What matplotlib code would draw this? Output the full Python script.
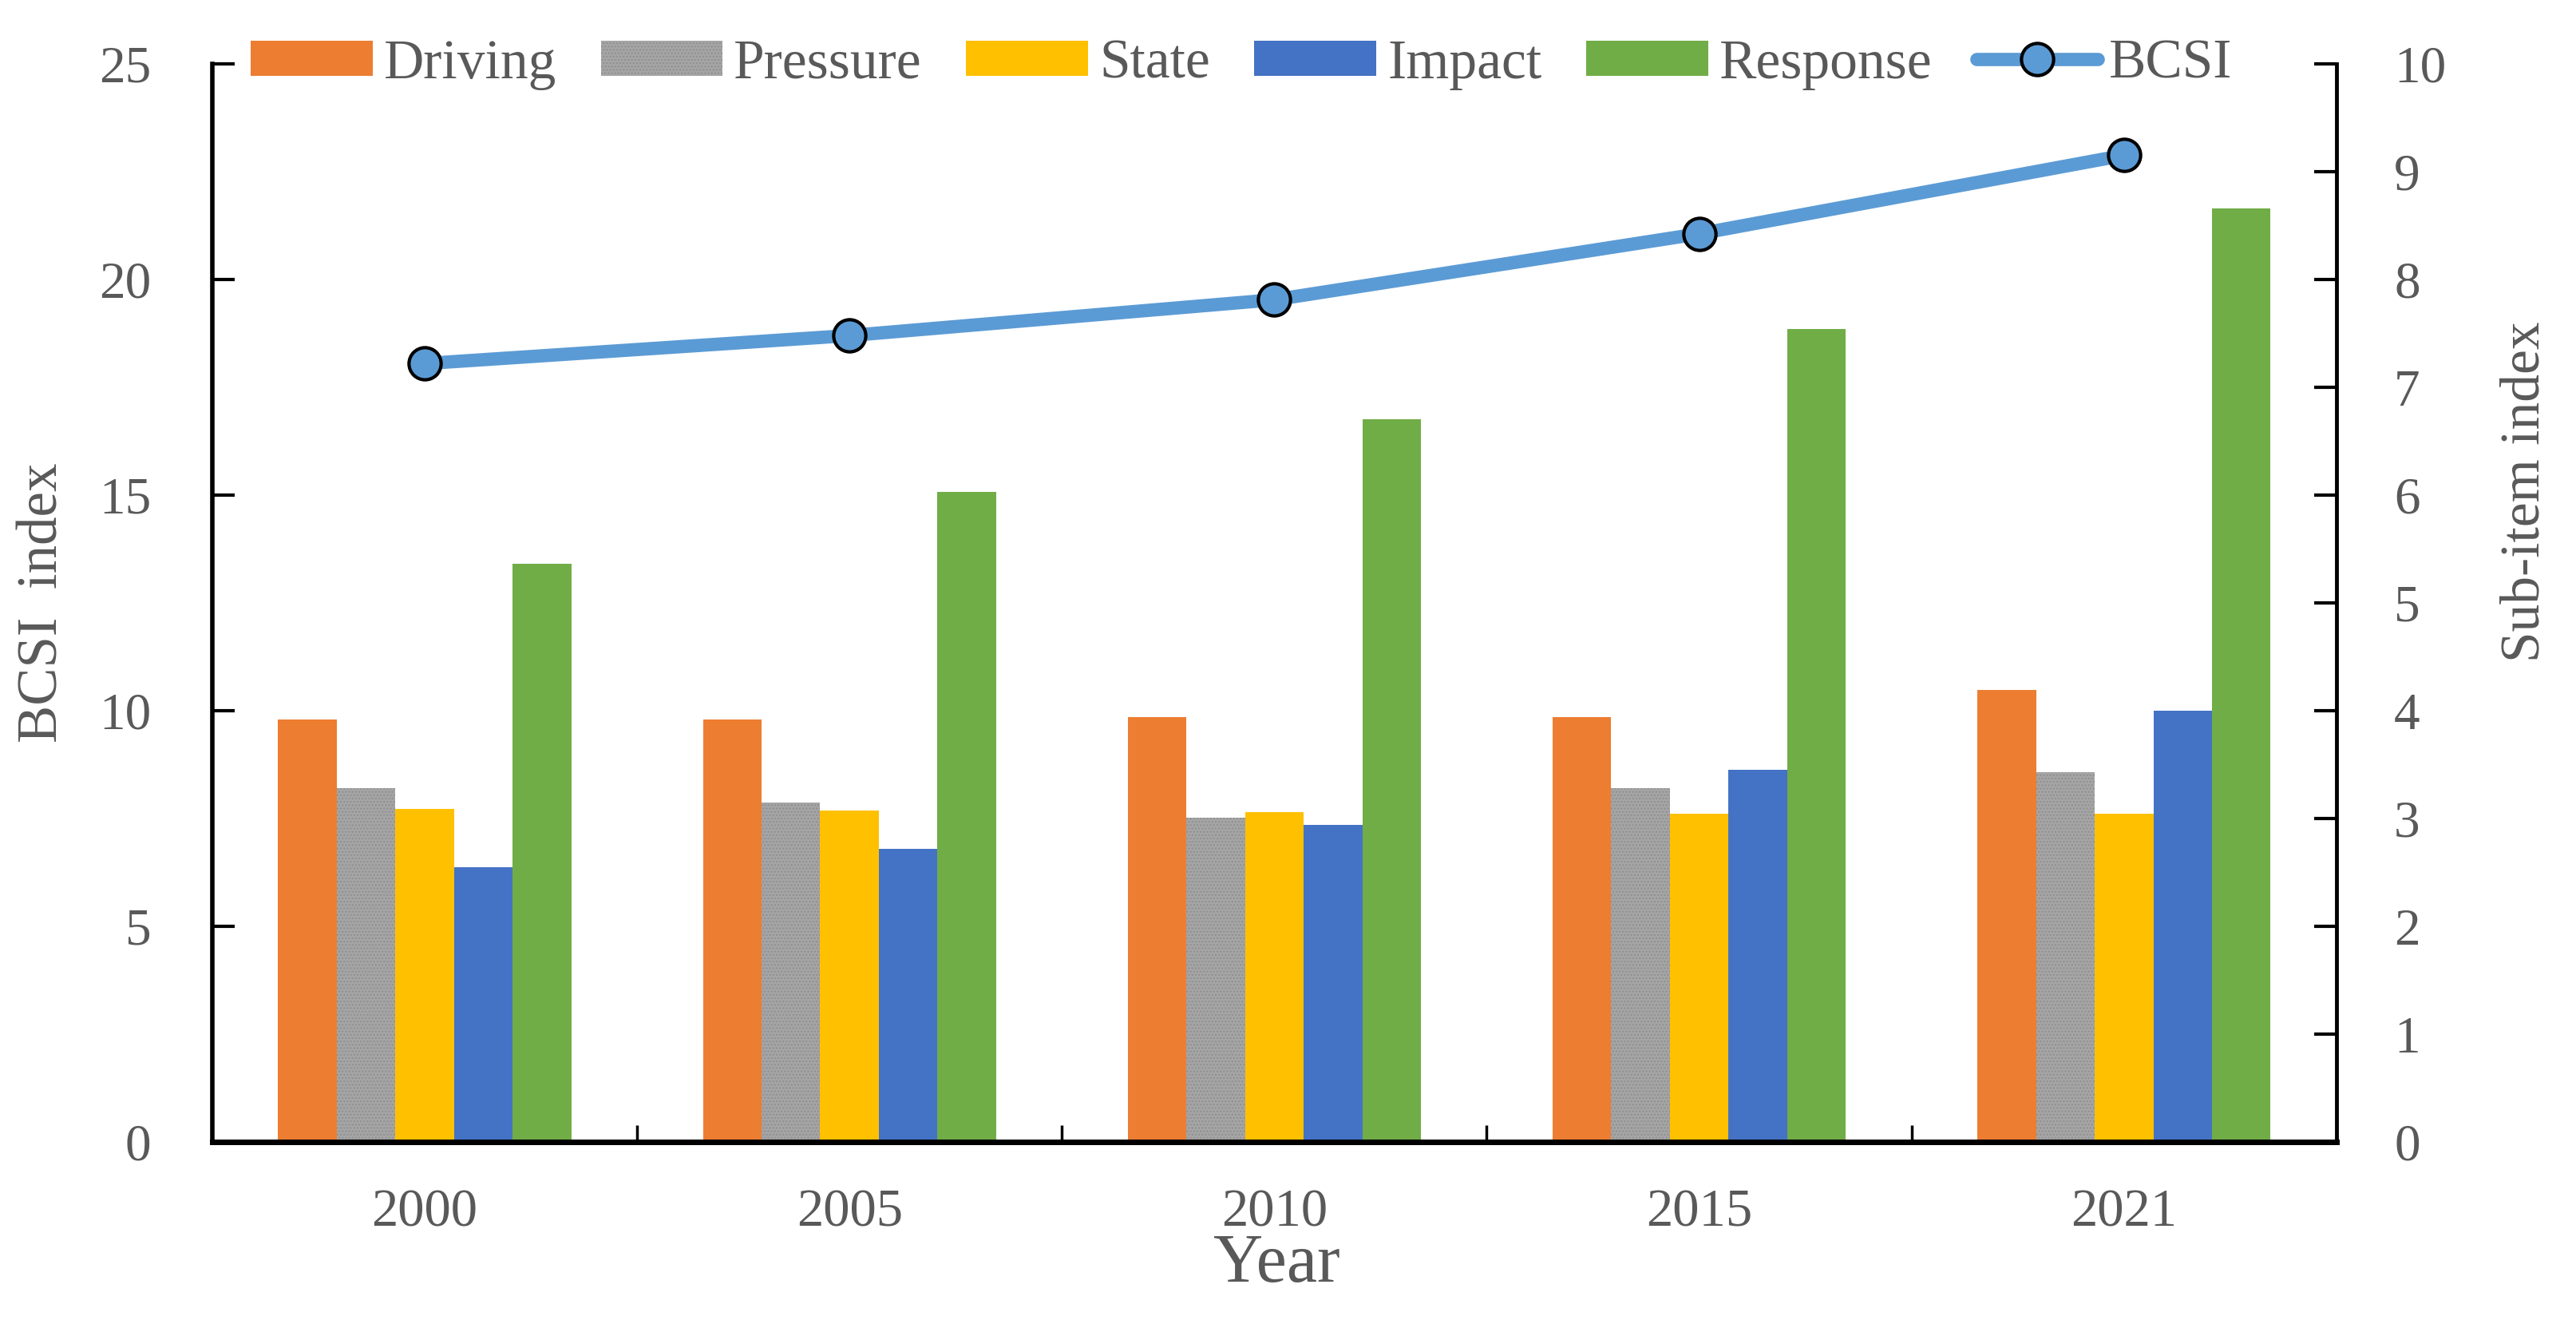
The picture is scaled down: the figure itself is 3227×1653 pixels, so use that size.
import numpy as np
import matplotlib
matplotlib.use("Agg")
import matplotlib.pyplot as plt

# Data
years = ["2000", "2005", "2010", "2015", "2021"]
driving = [3.92, 3.92, 3.94, 3.94, 4.19]
pressure = [3.28, 3.15, 3.01, 3.28, 3.43]
state = [3.09, 3.07, 3.06, 3.04, 3.04]
impact = [2.55, 2.72, 2.94, 3.45, 4.00]
response = [5.36, 6.03, 6.70, 7.54, 8.66]
bcsi = [18.05, 18.70, 19.53, 21.06, 22.88]

plt.rcParams["font.family"] = ["Liberation Serif", "DejaVu Serif"]
plt.rcParams["hatch.linewidth"] = 1.0
txt = "#595959"

fig = plt.figure(figsize=(32.27, 16.53), dpi=100)
ax = fig.add_axes([0.0824, 0.135, 0.907 - 0.0824, 0.9516 - 0.135])
ax2 = ax.twinx()

x = np.arange(len(years))
w = 0.138
series = [
    ("Driving", driving, "#ED7D31", None),
    ("Pressure", pressure, "#A5A5A5", "...."),
    ("State", state, "#FFC000", None),
    ("Impact", impact, "#4472C4", None),
    ("Response", response, "#70AD47", None),
]
handles = []
for i, (name, vals, col, hatch) in enumerate(series):
    b = ax2.bar(x + (i - 2) * w, vals, w, color=col, label=name,
                hatch=hatch, edgecolor="#8f8f8f" if hatch else col, linewidth=0)
    handles.append(b)

line, = ax.plot(x, bcsi, color="#5B9BD5", lw=12, marker="o", ms=29,
                mfc="#5B9BD5", mec="black", mew=3, label="BCSI",
                solid_capstyle="round")
handles.append(line)

# line axis drawn above the bars
ax.set_zorder(ax2.get_zorder() + 1)
ax.patch.set_visible(False)

ax.set_xlim(-0.5, 4.5)
ax.set_ylim(0, 25)
ax2.set_ylim(0, 10)
ax.set_yticks(np.arange(0, 26, 5))
ax2.set_yticks(np.arange(0, 11, 1))

ax.set_xticks(x)
ax.set_xticklabels(years)
ax.set_xticks(np.arange(0.5, 4.5, 1), minor=True)
ax.tick_params(axis="x", which="major", length=0, pad=42, labelsize=48, labelcolor=txt)
ax.tick_params(axis="x", which="minor", direction="in", length=15, width=2.5, color="black")
ax.tick_params(axis="y", direction="in", length=20, width=3, pad=55, labelsize=47, labelcolor=txt)
ax2.tick_params(axis="y", direction="in", length=20, width=3, pad=52, labelsize=47, labelcolor=txt)

for a in (ax, ax2):
    a.spines["top"].set_visible(False)
ax.spines["right"].set_visible(False)
ax2.spines["left"].set_visible(False)
ax2.spines["bottom"].set_visible(False)
ax.spines["left"].set_linewidth(4)
ax.spines["bottom"].set_linewidth(5)
ax2.spines["right"].set_linewidth(3.5)

ax.set_xlabel("Year", fontsize=62, color=txt)
ax.xaxis.set_label_coords(0.501, -0.085)
ax.set_ylabel("BCSI  index", fontsize=51, color=txt)
ax.yaxis.set_label_coords(-0.0673, 0.5)
ax2.set_ylabel("Sub-item index", fontsize=50, color=txt, rotation=90)
ax2.yaxis.set_label_coords(1.077, 0.603)

fig.legend(handles=handles, loc="center", bbox_to_anchor=(0.482, 0.951),
           ncol=6, frameon=False, fontsize=50, handlelength=2.2,
           handleheight=0.6, handletextpad=0.2, columnspacing=0.8,
           labelcolor=txt, borderpad=0)

fig.savefig("out.png", dpi=100)
